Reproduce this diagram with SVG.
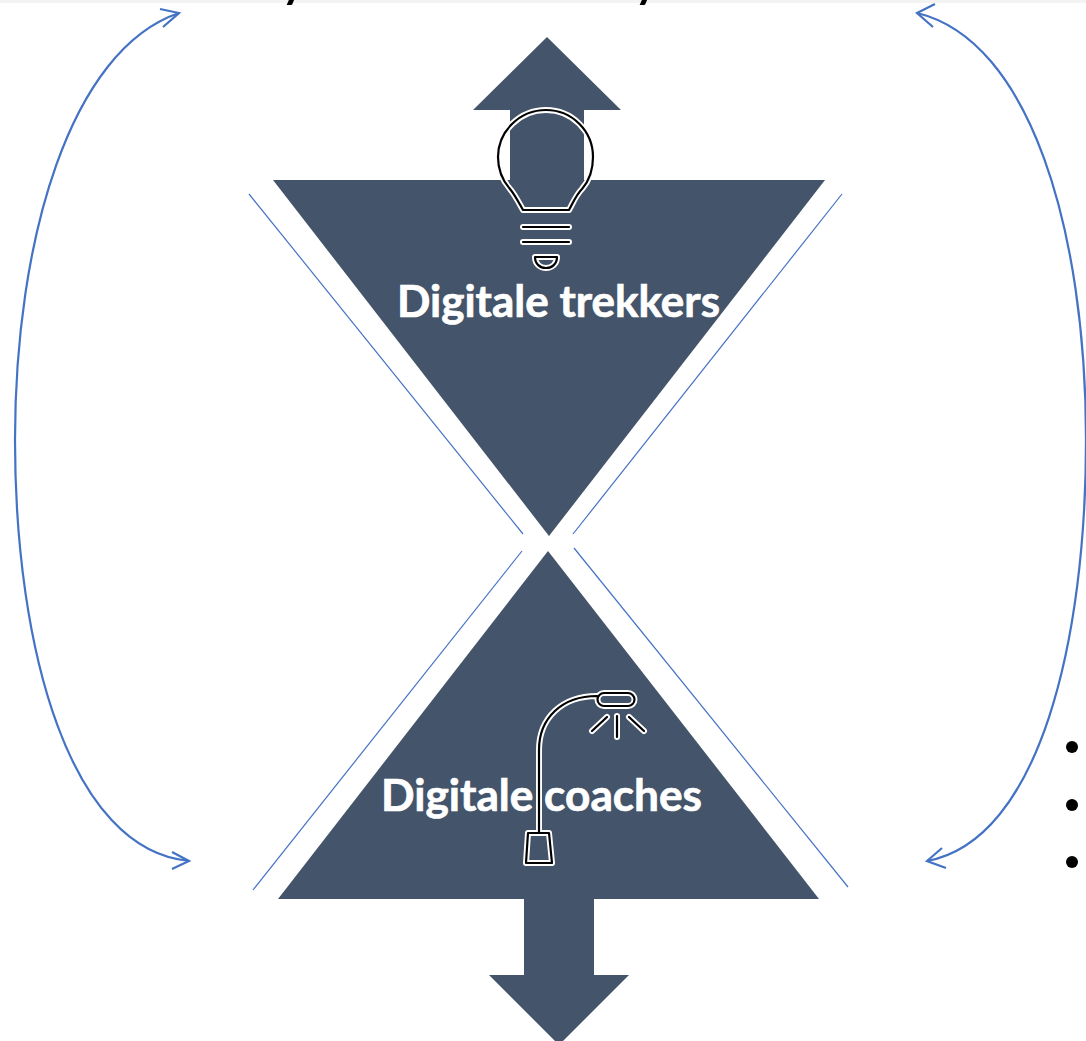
<svg xmlns="http://www.w3.org/2000/svg" width="1086" height="1041" viewBox="0 0 1086 1041">
<defs>
<style>
.shape{fill:#44546a;stroke:none}
.thin{fill:none;stroke:#4472c4;stroke-width:1.2}
.curve{fill:none;stroke:#4472c4;stroke-width:2.2}
.label{font-family:"Lato","Noto Sans",sans-serif;font-weight:700;font-size:44px;fill:#fff;stroke:#fff;stroke-width:.7}
.halo{fill:none;stroke:#fff;stroke-width:6;stroke-linecap:round;stroke-linejoin:round}
.ink{fill:none;stroke:#000;stroke-width:2.2;stroke-linecap:round;stroke-linejoin:round}
.desc{font-family:"Lato",sans-serif;font-size:60px;fill:#000}
</style>
<path id="bulb" d="M523 210 L569 210 C573 203 576 195 582 189 C589 181 593 170 593 157 C593 131 572 110 546 110 C520 110 498 131 498 157 C498 170 503 181 510 189 C515 195 519 203 523 210 Z M523 227 H569 M523 242 H569 M535 257 H557 C557 264 552 268 546 268 C540 268 535 264 535 257 Z"/>
<path id="lamp" d="M539 833 V750 C539 718 562 696 597 696 M604 693 H628 A6.5 6.5 0 0 1 628 706 H604 A6.5 6.5 0 0 1 604 693 Z M607 717 L592 731 M617 716 V737 M629 717 L644 731 M528 833 H549 L552 863 H526 Z"/>
</defs>
<rect width="1086" height="1041" fill="#fff"/>
<rect width="1086" height="3" fill="#f3f3f3"/>
<text class="desc" x="279" y="-5">y</text>
<text class="desc" x="632" y="-5">y</text>
<g id="connectors">
<path class="thin" d="M249 194 L523 534"/>
<path class="thin" d="M842 194 L573 534"/>
<path class="thin" d="M522 551 L253 890"/>
<path class="thin" d="M574 548 L848 887"/>
<path class="curve" d="M179 13 C70 50 15 240 15 440 C15 650 70 850 189 861"/>
<path class="curve" d="M160 9 L179 13 L163 27"/>
<path class="curve" d="M172 852 L189 861 L172 869"/>
<path class="curve" d="M917 13 C1030 40 1086 230 1086 440 C1086 640 1040 840 927 861"/>
<path class="curve" d="M935 4 L917 13 L933 27"/>
<path class="curve" d="M942 848 L927 861 L946 868"/>
</g>
<g id="arrow-up"><path class="shape" d="M547 37 L621 110 H584 V180 H510 V110 H473 Z"/></g>
<g id="digitale-trekkers">
<path class="shape" d="M273 180 H825 L549 536 Z"/>
<use href="#bulb" class="halo"/>
<use href="#bulb" class="ink"/>
<text class="label" x="397" y="317" textLength="323" lengthAdjust="spacingAndGlyphs">Digitale trekkers</text>
</g>
<g id="arrow-down"><path class="shape" d="M524 899 H594 V975 H629 L559 1045 L489 975 H524 Z"/></g>
<g id="digitale-coaches">
<path class="shape" d="M548 551 L819 899 H278 Z"/>
<text class="label" x="381" y="811" textLength="321" lengthAdjust="spacingAndGlyphs">Digitale coaches</text>
<use href="#lamp" class="halo"/>
<use href="#lamp" class="ink"/>
</g>
<g id="bullets">
<circle cx="1072" cy="747" r="6"/>
<circle cx="1072" cy="805" r="6"/>
<circle cx="1072" cy="862" r="6"/>
</g>
</svg>
